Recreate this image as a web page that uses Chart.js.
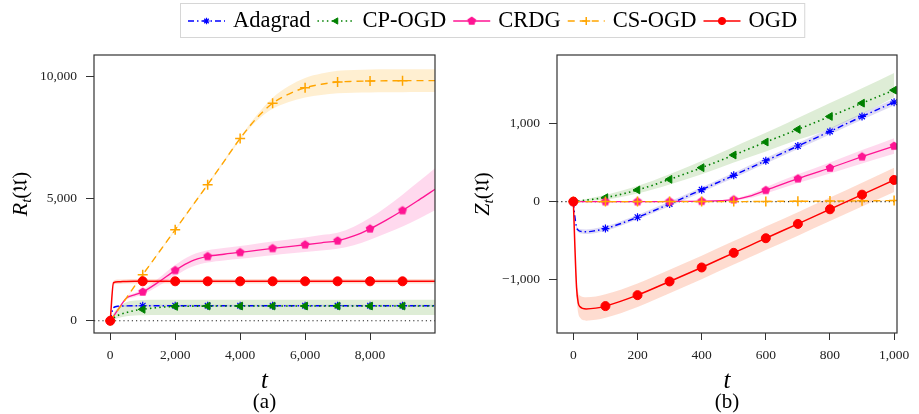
<!DOCTYPE html>
<html>
<head>
<meta charset="utf-8">
<script src="https://cdn.jsdelivr.net/npm/chart.js@4/dist/chart.umd.min.js"></script>
<style>
  body { margin: 0; background: #fff; width: 919px; height: 414px; position: relative; overflow: hidden; }
  canvas { position: absolute; top: 0; }
</style>
</head>
<body>
<canvas id="chartA" width="460" height="414" style="left:0"></canvas>
<canvas id="chartB" width="459" height="414" style="left:460px"></canvas>
<canvas id="legend" width="919" height="40" style="left:0"></canvas>
<script>
// ---- (a) cumulative regret R_t over 10,000 rounds ----
const tA = [0, 100, 250, 500, 750, 1000, 1500, 2000, 2500, 3000, 3500, 4000, 4500, 5000,
            5500, 6000, 6500, 7000, 7500, 8000, 8500, 9000, 9500, 10000];
const markA = [0, 1000, 2000, 3000, 4000, 5000, 6000, 7000, 8000, 9000];
const xTicksA = [0, 2000, 4000, 6000, 8000];
const yTicksA = [0, 5000, 10000];

const adagradA = [0, 540, 600, 612, 616, 618, 620, 620, 620, 620, 620, 620, 620, 620,
                  620, 620, 620, 620, 620, 620, 620, 620, 620, 620];
const adagradAErr = [0, 20, 30, 35, 35, 35, 35, 35, 35, 35, 35, 35, 35, 35,
                     35, 35, 35, 35, 35, 35, 35, 35, 35, 35];
const cpogdA = [0, 120, 230, 340, 420, 470, 550, 590, 600, 603, 605, 605, 605, 605,
                605, 605, 605, 605, 605, 605, 605, 605, 605, 605];
const cpogdALo = [0, 40, 120, 190, 220, 230, 235, 235, 235, 235, 235, 235, 235, 235,
                  235, 235, 235, 235, 235, 235, 235, 235, 235, 235];
const cpogdAHi = [0, 300, 560, 760, 830, 850, 860, 865, 865, 865, 865, 865, 865, 865,
                  865, 865, 865, 865, 865, 865, 865, 865, 865, 865];
const crdgA = [0, 190, 480, 930, 1060, 1185, 1600, 2070, 2450, 2640, 2730, 2806, 2890, 2969,
               3045, 3119, 3200, 3282, 3480, 3773, 4130, 4522, 4950, 5394];
const crdgAErr = [0, 20, 40, 60, 80, 100, 160, 220, 240, 250, 255, 260, 270, 280,
                  290, 300, 315, 330, 380, 450, 540, 650, 760, 860];
const csogdA = [0, 190, 470, 940, 1420, 1893, 2810, 3732, 4660, 5584, 6530, 7477, 8300, 8921,
                9300, 9561, 9700, 9793, 9820, 9834, 9842, 9847, 9850, 9850];
const csogdAErr = [0, 5, 10, 15, 20, 25, 30, 35, 40, 45, 50, 60, 120, 230,
                   330, 400, 440, 460, 465, 470, 470, 470, 470, 470];
const ogdA = [0, 1560, 1600, 1615, 1620, 1620, 1620, 1620, 1620, 1620, 1620, 1620, 1620, 1620,
              1620, 1620, 1620, 1620, 1620, 1620, 1620, 1620, 1620, 1620];
const ogdAErr = [0, 80, 90, 90, 90, 90, 90, 90, 90, 90, 90, 90, 90, 90,
                 90, 90, 90, 90, 90, 90, 90, 90, 90, 90];

// ---- (b) Z_t over 1,000 rounds ----
const tB = [0, 5, 10, 15, 20, 40, 70, 100, 200, 300, 400, 500, 550, 600, 700, 800, 900, 1000];
const markB = [0, 100, 200, 300, 400, 500, 600, 700, 800, 900, 1000];
const xTicksB = [0, 200, 400, 600, 800, 1000];
const yTicksB = [-1000, 0, 1000];

const adagradB = [0, -200, -330, -365, -378, -385, -370, -345, -200, -30, 153, 336, 430, 523, 711, 898, 1089, 1272];
const adagradBErr = [0, 10, 20, 25, 28, 30, 30, 30, 30, 30, 32, 34, 35, 36, 38, 40, 42, 44];
const cpogdB = [0, 2, 5, 7, 10, 20, 35, 51, 149, 285, 434, 596, 679, 762, 923, 1089, 1259, 1425];
const cpogdBLo = [0, 0, 1, 2, 3, 8, 15, 25, 105, 220, 350, 500, 570, 640, 790, 930, 1120, 1335];
const cpogdBHi = [0, 4, 10, 14, 18, 35, 60, 85, 200, 350, 520, 700, 790, 880, 1070, 1260, 1450, 1645];
const crdgB = [0, 0, 0, 0, 0, 0, 0, 0, 0, 2, 5, 26, 70, 145, 294, 430, 574, 711];
const crdgBErr = [0, 0, 0, 0, 0, 0, 0, 2, 3, 4, 6, 12, 25, 40, 55, 70, 85, 100];
const csogdB = [0, 0, 0, 0, 0, 0, 0, 0, 0, 0, 0, 0, 1, 3, 5, 7, 10, 13];
const csogdBErr = [0, 0, 0, 0, 0, 0, 0, 2, 3, 3, 4, 4, 4, 5, 5, 5, 6, 6];
const ogdB = [0, -600, -1100, -1290, -1340, -1372, -1362, -1336, -1196, -1021, -842, -655, -562, -468, -285, -98, 89, 277];
const ogdBErr = [0, 60, 110, 130, 140, 150, 150, 150, 150, 150, 150, 150, 150, 150, 150, 150, 152, 155];

const SERIF = '"Liberation Serif"';

// pentagon marker for CRDG
function pentagon(color, r) {
  const size = Math.ceil(r * 2 + 2);
  const c = document.createElement('canvas');
  c.width = size; c.height = size;
  const g = c.getContext('2d');
  g.fillStyle = color;
  g.beginPath();
  for (let i = 0; i < 5; i++) {
    const a = -Math.PI / 2 + i * 2 * Math.PI / 5;
    const px = size / 2 + r * Math.cos(a), py = size / 2 + r * Math.sin(a);
    i ? g.lineTo(px, py) : g.moveTo(px, py);
  }
  g.closePath();
  g.fill();
  return c;
}

const styles = {
  Adagrad: { color: '#0000ff', band: 'rgba(106,90,205,0.22)', dash: [6, 3, 1.5, 3], width: 1.4, point: 'star', radius: 4, rot: 0, bw: 1.2 },
  'CP-OGD': { color: '#008000', band: 'rgba(90,165,50,0.2)', dash: [1.5, 3.2], width: 1.6, point: 'triangle', radius: 4.5, rot: -90, bw: 1 },
  CRDG: { color: '#ff1493', band: 'rgba(255,20,147,0.16)', dash: [], width: 1.3, point: pentagon('#ff1493', 4.6), radius: 4, rot: 0, bw: 1 },
  'CS-OGD': { color: '#ffa500', band: 'rgba(255,165,0,0.18)', dash: [7, 5], width: 1.4, point: 'cross', radius: 5, rot: 0, bw: 1.5 },
  OGD: { color: '#ff0000', band: 'rgba(250,110,60,0.24)', dash: [], width: 1.5, point: 'circle', radius: 4.5, rot: 0, bw: 1 }
};
const names = ['Adagrad', 'CP-OGD', 'CRDG', 'CS-OGD', 'OGD'];

const pts = (ts, ys) => ts.map((t, i) => ({ x: t, y: ys[i] }));

function buildDatasets(ts, marks, series, bands, zeroRange) {
  const ds = [];
  // shaded bands go underneath everything
  names.forEach(n => {
    const [lo, hi] = bands[n];
    const base = ds.length;
    ds.push({ data: pts(ts, lo), borderWidth: 0, pointRadius: 0, fill: false, order: 20 });
    ds.push({ data: pts(ts, hi), borderWidth: 0, pointRadius: 0, backgroundColor: styles[n].band,
              fill: { target: base }, order: 20 });
  });
  ds.push({ data: [{ x: zeroRange[0], y: 0 }, { x: zeroRange[1], y: 0 }], borderColor: '#222',
            borderWidth: 1.1, borderDash: [1.2, 3], pointRadius: 0, order: 10 });
  names.forEach((n, k) => {
    const s = styles[n];
    ds.push({
      label: n, data: pts(ts, series[n]), borderColor: s.color, backgroundColor: s.color,
      borderWidth: s.width, borderDash: s.dash, pointStyle: s.point, pointRotation: s.rot,
      pointBorderWidth: s.bw, fill: false, order: 5 - k,
      pointRadius: ctx => marks.includes(ctx.raw.x) ? s.radius : 0
    });
  });
  return ds;
}

const fmt = v => v.toLocaleString('en-US').replace('-', '\u2212');

const axisTitles = {
  id: 'axisTitles',
  afterDraw(chart, args, o) {
    const { ctx, chartArea: a } = chart;
    const cx = (a.left + a.right) / 2;
    ctx.save();
    ctx.fillStyle = '#000';
    ctx.textAlign = 'center';
    ctx.textBaseline = 'alphabetic';
    ctx.font = 'italic 25px ' + SERIF;
    ctx.fillText('t', cx, 388);
    ctx.font = '21px ' + SERIF;
    ctx.fillText(o.caption, cx, 408);
    // y title: letter with subscript t, then (𝔘)
    const parts = [
      { s: o.letter, f: 'italic 22px ' + SERIF, dy: 0 },
      { s: 't', f: 'italic 15px ' + SERIF, dy: 4 },
      { s: '(', f: '21px ' + SERIF, dy: 0 },
      { s: '\u{1D518}', f: '20px "DejaVu Serif"', dy: 0 },
      { s: ')', f: '21px ' + SERIF, dy: 0 }
    ];
    let total = 0;
    parts.forEach(p => { ctx.font = p.f; p.w = ctx.measureText(p.s).width; total += p.w; });
    ctx.translate(o.yx, (a.top + a.bottom) / 2);
    ctx.rotate(-Math.PI / 2);
    ctx.textAlign = 'left';
    let x = -total / 2;
    parts.forEach(p => { ctx.font = p.f; ctx.fillText(p.s, x, p.dy); x += p.w; });
    ctx.restore();
  }
};

const frame = {
  id: 'frame',
  afterDatasetsDraw(chart) {
    const { ctx, chartArea: a } = chart;
    ctx.save();
    ctx.strokeStyle = '#333';
    ctx.lineWidth = 1.2;
    ctx.strokeRect(a.left, a.top, a.right - a.left, a.bottom - a.top);
    ctx.restore();
  }
};

function makeChart(id, cfg) {
  const tickFont = { family: SERIF, size: 13.5 };
  return new Chart(document.getElementById(id), {
    type: 'line',
    data: { datasets: cfg.datasets },
    options: {
      responsive: false, animation: false, events: [],
      layout: { padding: { top: 55, right: cfg.padRight, left: 0, bottom: 0 } },
      elements: { line: { cubicInterpolationMode: 'monotone' } },
      plugins: { legend: { display: false }, tooltip: { enabled: false }, axisTitles: cfg.titles },
      scales: {
        x: {
          type: 'linear', min: cfg.xRange[0], max: cfg.xRange[1],
          afterBuildTicks: s => { s.ticks = cfg.xTicks.map(v => ({ value: v })); },
          afterFit: s => { s.height = 81; },
          grid: { drawOnChartArea: false, tickLength: 7, color: '#333', tickWidth: 1 },
          border: { display: false },
          ticks: { font: tickFont, color: '#222', padding: 7, maxRotation: 0, callback: fmt }
        },
        y: {
          type: 'linear', min: cfg.yRange[0], max: cfg.yRange[1],
          afterBuildTicks: s => { s.ticks = cfg.yTicks.map(v => ({ value: v })); },
          afterFit: s => { s.width = cfg.yWidth; },
          grid: { drawOnChartArea: false, tickLength: 8, color: '#333', tickWidth: 1 },
          border: { display: false },
          ticks: { font: tickFont, color: '#222', padding: 9, callback: fmt }
        }
      }
    },
    plugins: [frame, axisTitles]
  });
}

makeChart('chartA', {
  datasets: buildDatasets(tA, markA,
    { Adagrad: adagradA, 'CP-OGD': cpogdA, CRDG: crdgA, 'CS-OGD': csogdA, OGD: ogdA },
    {
      Adagrad: [adagradA.map((v, i) => v - adagradAErr[i]), adagradA.map((v, i) => v + adagradAErr[i])],
      'CP-OGD': [cpogdALo, cpogdAHi],
      CRDG: [crdgA.map((v, i) => v - crdgAErr[i]), crdgA.map((v, i) => v + crdgAErr[i])],
      'CS-OGD': [csogdA.map((v, i) => v - csogdAErr[i]), csogdA.map((v, i) => v + csogdAErr[i])],
      OGD: [ogdA.map((v, i) => v - ogdAErr[i]), ogdA.map((v, i) => v + ogdAErr[i])]
    }, [-500, 10000]),
  xRange: [-500, 10000], yRange: [-500, 10900], xTicks: xTicksA, yTicks: yTicksA,
  yWidth: 94, padRight: 25,
  titles: { caption: '(a)', letter: 'R', yx: 27 }
});

makeChart('chartB', {
  datasets: buildDatasets(tB, markB,
    { Adagrad: adagradB, 'CP-OGD': cpogdB, CRDG: crdgB, 'CS-OGD': csogdB, OGD: ogdB },
    {
      Adagrad: [adagradB.map((v, i) => v - adagradBErr[i]), adagradB.map((v, i) => v + adagradBErr[i])],
      'CP-OGD': [cpogdBLo, cpogdBHi],
      CRDG: [crdgB.map((v, i) => v - crdgBErr[i]), crdgB.map((v, i) => v + crdgBErr[i])],
      'CS-OGD': [csogdB.map((v, i) => v - csogdBErr[i]), csogdB.map((v, i) => v + csogdBErr[i])],
      OGD: [ogdB.map((v, i) => v - ogdBErr[i]), ogdB.map((v, i) => v + ogdBErr[i])]
    }, [-51, 1009]),
  xRange: [-51, 1009], yRange: [-1680, 1875], xTicks: xTicksB, yTicks: yTicksB,
  yWidth: 97, padRight: 22,
  titles: { caption: '(b)', letter: 'Z', yx: 29 }
});

// legend row shared by both panels
(function drawLegend() {
  const g = document.getElementById('legend').getContext('2d');
  const left = 180, top = 3, h = 34, sample = 37;
  g.font = '22.5px ' + SERIF;
  let x = left + 8;
  const items = names.map(n => {
    const it = { n, x, w: g.measureText(n).width };
    x += sample + 8 + it.w + 7;
    return it;
  });
  const right = x;
  g.fillStyle = '#fff';
  g.fillRect(left, top, right - left, h);
  g.strokeStyle = '#d6d6d6';
  g.lineWidth = 1;
  g.strokeRect(left + 0.5, top + 0.5, right - left, h);
  const cy = top + h / 2 + 1;
  items.forEach(it => {
    const s = styles[it.n];
    g.save();
    g.strokeStyle = s.color; g.fillStyle = s.color;
    g.lineWidth = s.width; g.setLineDash(s.dash);
    g.beginPath(); g.moveTo(it.x, cy); g.lineTo(it.x + sample, cy); g.stroke();
    g.setLineDash([]);
    g.lineWidth = s.bw;
    Chart.helpers.drawPoint(g, { pointStyle: s.point, rotation: s.rot, radius: s.radius * 0.8, borderWidth: s.bw },
      it.x + sample / 2, cy);
    g.restore();
    g.fillStyle = '#000';
    g.font = '22.5px ' + SERIF;
    g.textBaseline = 'alphabetic';
    g.fillText(it.n, it.x + sample + 8, top + 24);
  });
})();
</script>
</body>
</html>
